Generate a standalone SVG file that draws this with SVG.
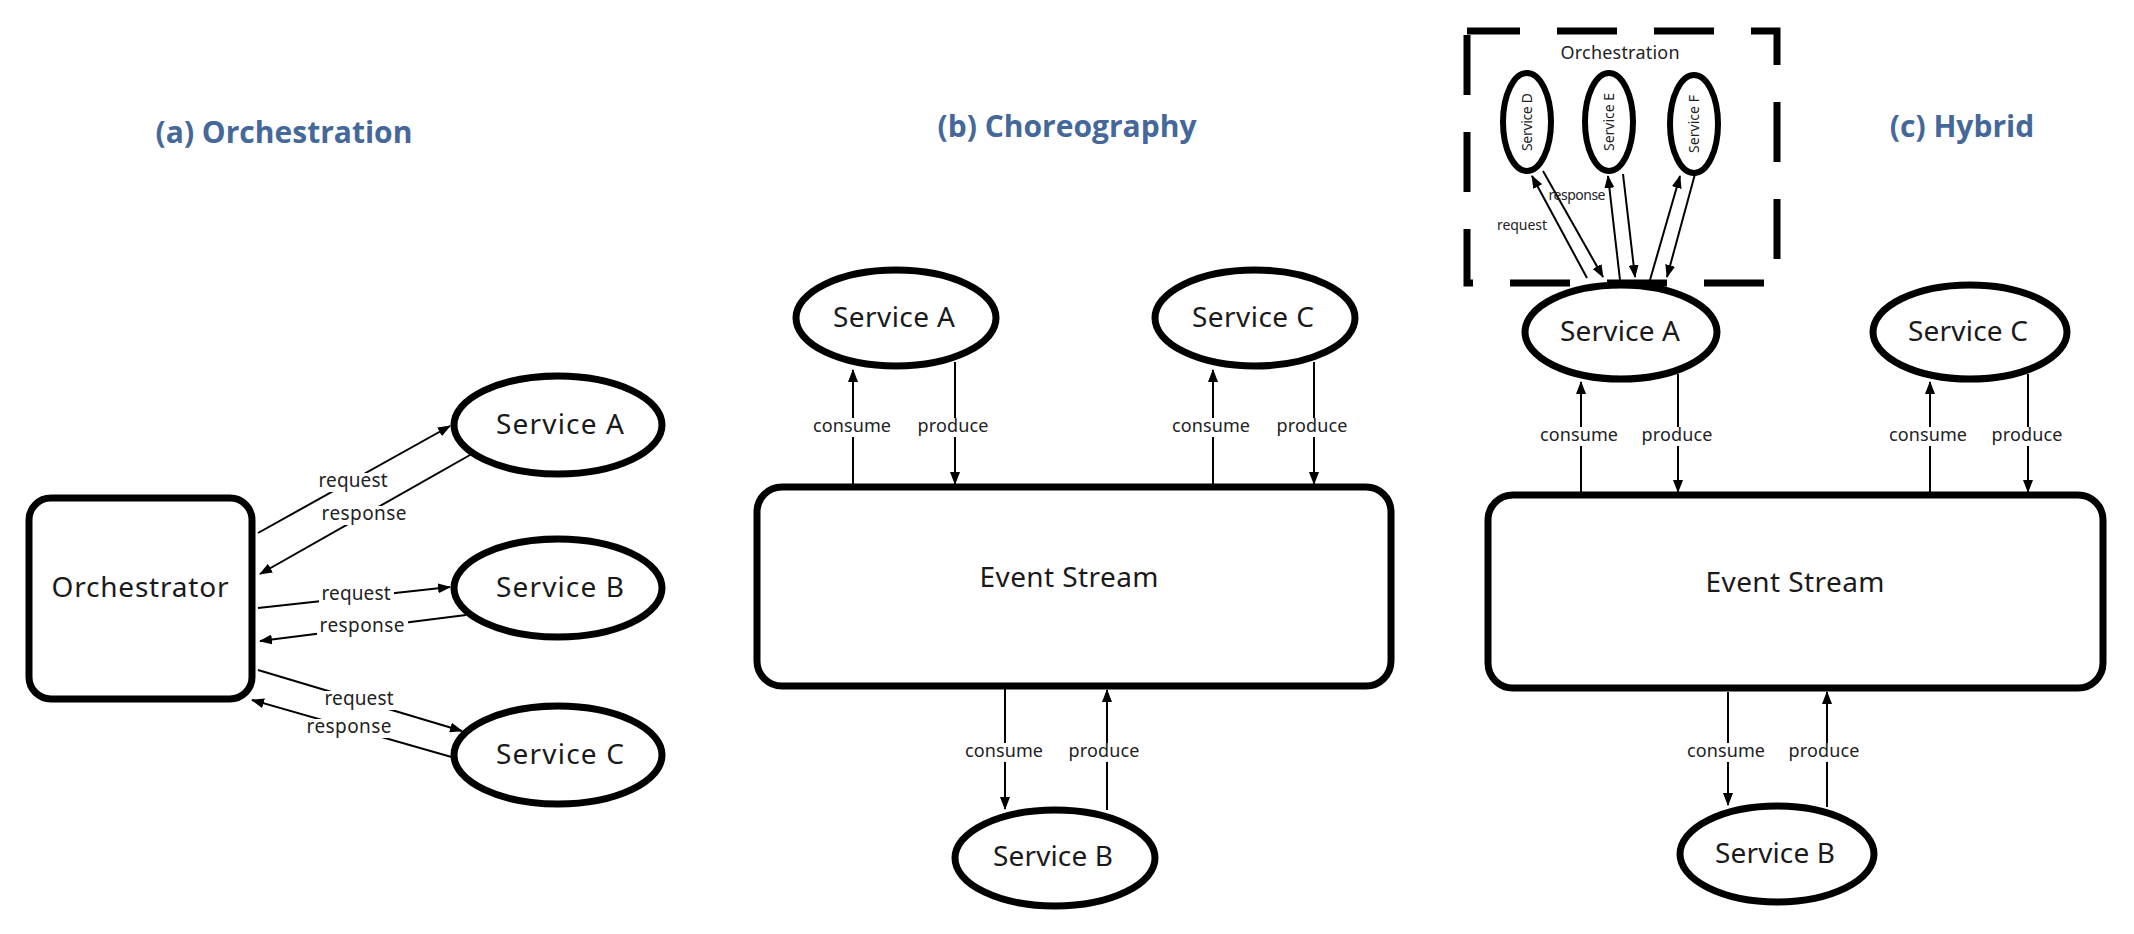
<svg xmlns="http://www.w3.org/2000/svg" width="2134" height="934" viewBox="0 0 2134 934">
<style>
.title{font-family:"Open Sans","Noto Sans",sans-serif;font-weight:bold;font-size:30px;fill:#45689b;text-anchor:middle}
.node{fill:#fff;stroke:#000;stroke-width:7}
.small{fill:#fff;stroke:#000;stroke-width:6}
.big{font-family:"Noto Sans","Open Sans",sans-serif;font-size:28px;fill:#1a1a1a;text-anchor:middle}
.lbl{font-family:"Noto Sans","Open Sans",sans-serif;font-size:18px;fill:#222;text-anchor:middle}
.lbla{font-family:"Noto Sans","Open Sans",sans-serif;font-size:19px;fill:#222;text-anchor:middle}
.tiny{font-family:"Noto Sans","Open Sans",sans-serif;font-size:14px;fill:#222;text-anchor:middle}
.bg{fill:#fff}
.conn path{fill:none;stroke:#000;stroke-width:2;marker-end:url(#ah)}
.dash{fill:none;stroke:#000;stroke-width:7;stroke-dasharray:60 37;stroke-dashoffset:7}
</style>
<defs>
<marker id="ah" markerWidth="13" markerHeight="10" refX="12" refY="5" orient="auto" markerUnits="userSpaceOnUse">
<path d="M0,0 L13,5 L0,10 z" fill="#000"/>
</marker>
</defs>
<rect width="2134" height="934" fill="#fff"/>

<g id="titles">
<text class="title" x="284" y="143">(a) Orchestration</text>
<text class="title" x="1067" y="137">(b) Choreography</text>
<text class="title" x="1962" y="137">(c) Hybrid</text>
</g>

<path id="orchestration-group" class="dash" d="M1467,31 H1777 V283 H1467 Z"/>
<text class="lbl" x="1620" y="59" textLength="119">Orchestration</text>

<g id="connectors" class="conn">
<path d="M258,533 L450,426"/>
<path d="M470,455 L260,574"/>
<path d="M258,608 L450,587"/>
<path d="M466,615 L260,641"/>
<path d="M258,670 L462,731"/>
<path d="M455,758 L252,700"/>
<path d="M853,484 L853,370"/>
<path d="M955,362 L955,484"/>
<path d="M1213,484 L1213,370"/>
<path d="M1314,362 L1314,484"/>
<path d="M1005,689 L1005,809"/>
<path d="M1107,810 L1107,690"/>
<path d="M1581,492 L1581,382"/>
<path d="M1678,374 L1678,492"/>
<path d="M1930,492 L1930,382"/>
<path d="M2028,374 L2028,492"/>
<path d="M1728,692 L1728,805"/>
<path d="M1827,807 L1827,692"/>
<path d="M1587,278 L1532,176"/>
<path d="M1543,171 L1603,277"/>
<path d="M1620,280 L1608,176"/>
<path d="M1623,174 L1635,277"/>
<path d="M1650,280 L1680,176"/>
<path d="M1695,174 L1667,277"/>
</g>

<g id="connector-labels">
<rect class="bg" x="316" y="473" width="75" height="19"/><text class="lbla" x="353" y="487" textLength="69">request</text>
<rect class="bg" x="319" y="506" width="91" height="19"/><text class="lbla" x="364" y="520" textLength="85">response</text>
<rect class="bg" x="319" y="586" width="75" height="19"/><text class="lbla" x="356" y="600" textLength="69">request</text>
<rect class="bg" x="317" y="618" width="91" height="19"/><text class="lbla" x="362" y="632" textLength="85">response</text>
<rect class="bg" x="322" y="691" width="75" height="19"/><text class="lbla" x="359" y="705" textLength="69">request</text>
<rect class="bg" x="304" y="719" width="91" height="19"/><text class="lbla" x="349" y="733" textLength="85">response</text>

<rect class="bg" x="810" y="418" width="84" height="19"/><text class="lbl" x="852" y="432" textLength="78">consume</text>
<rect class="bg" x="915" y="418" width="77" height="19"/><text class="lbl" x="953" y="432" textLength="71">produce</text>
<rect class="bg" x="1169" y="418" width="84" height="19"/><text class="lbl" x="1211" y="432" textLength="78">consume</text>
<rect class="bg" x="1274" y="418" width="77" height="19"/><text class="lbl" x="1312" y="432" textLength="71">produce</text>
<rect class="bg" x="962" y="743" width="84" height="19"/><text class="lbl" x="1004" y="757" textLength="78">consume</text>
<rect class="bg" x="1066" y="743" width="77" height="19"/><text class="lbl" x="1104" y="757" textLength="71">produce</text>

<rect class="bg" x="1537" y="427" width="84" height="19"/><text class="lbl" x="1579" y="441" textLength="78">consume</text>
<rect class="bg" x="1639" y="427" width="77" height="19"/><text class="lbl" x="1677" y="441" textLength="71">produce</text>
<rect class="bg" x="1886" y="427" width="84" height="19"/><text class="lbl" x="1928" y="441" textLength="78">consume</text>
<rect class="bg" x="1989" y="427" width="77" height="19"/><text class="lbl" x="2027" y="441" textLength="71">produce</text>
<rect class="bg" x="1684" y="743" width="84" height="19"/><text class="lbl" x="1726" y="757" textLength="78">consume</text>
<rect class="bg" x="1786" y="743" width="77" height="19"/><text class="lbl" x="1824" y="757" textLength="71">produce</text>

<text class="tiny" x="1522" y="230" textLength="50">request</text>
<text class="tiny" x="1577" y="200" textLength="57">response</text>
</g>

<g id="a-orchestrator"><rect class="node" x="29" y="498" width="223" height="201" rx="22"/><text class="big" x="140" y="597" font-size="30" textLength="177">Orchestrator</text></g>
<g id="a-service-a"><ellipse class="node" cx="558" cy="425" rx="104" ry="49"/><text class="big" x="560" y="434" textLength="128">Service A</text></g>
<g id="a-service-b"><ellipse class="node" cx="558" cy="588" rx="104" ry="49"/><text class="big" x="560" y="597" textLength="128">Service B</text></g>
<g id="a-service-c"><ellipse class="node" cx="558" cy="755" rx="104" ry="49"/><text class="big" x="560" y="764" textLength="128">Service C</text></g>

<g id="b-service-a"><ellipse class="node" cx="896" cy="318" rx="100" ry="48"/><text class="big" x="894" y="327" textLength="122">Service A</text></g>
<g id="b-service-c"><ellipse class="node" cx="1255" cy="318" rx="100" ry="48"/><text class="big" x="1253" y="327" textLength="122">Service C</text></g>
<g id="b-event-stream"><rect class="node" x="757" y="487" width="634" height="199" rx="25"/><text class="big" x="1069" y="587" textLength="179">Event Stream</text></g>
<g id="b-service-b"><ellipse class="node" cx="1055" cy="858" rx="100" ry="48"/><text class="big" x="1053" y="866" textLength="120">Service B</text></g>

<g id="c-service-d"><ellipse class="small" cx="1527" cy="122" rx="24" ry="49"/><text class="tiny" transform="translate(1532,122) rotate(-90)" x="0" y="0" textLength="58">Service D</text></g>
<g id="c-service-e"><ellipse class="small" cx="1609" cy="122" rx="24" ry="49"/><text class="tiny" transform="translate(1614,122) rotate(-90)" x="0" y="0" textLength="58">Service E</text></g>
<g id="c-service-f"><ellipse class="small" cx="1694" cy="124" rx="24" ry="49"/><text class="tiny" transform="translate(1699,124) rotate(-90)" x="0" y="0" textLength="58">Service F</text></g>
<g id="c-service-a"><ellipse class="node" cx="1621" cy="332" rx="96" ry="47"/><text class="big" x="1620" y="341" textLength="120">Service A</text></g>
<g id="c-service-c"><ellipse class="node" cx="1970" cy="332" rx="97" ry="47"/><text class="big" x="1968" y="341" textLength="120">Service C</text></g>
<g id="c-event-stream"><rect class="node" x="1488" y="495" width="615" height="193" rx="25"/><text class="big" x="1795" y="592" textLength="179">Event Stream</text></g>
<g id="c-service-b"><ellipse class="node" cx="1777" cy="854" rx="97" ry="48"/><text class="big" x="1775" y="863" textLength="120">Service B</text></g>
</svg>
